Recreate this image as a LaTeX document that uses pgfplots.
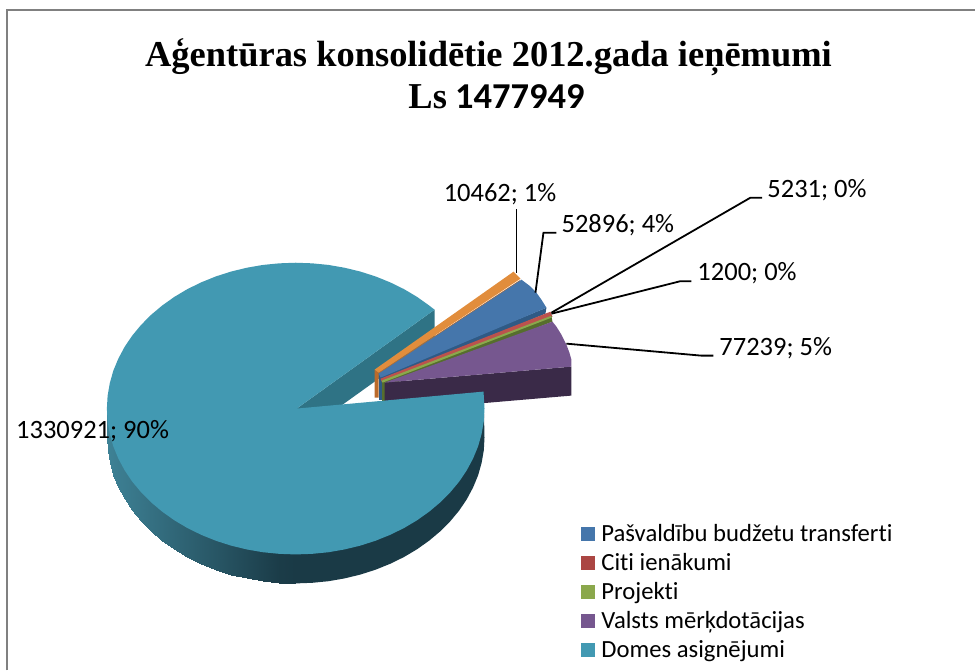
\documentclass[border=0pt]{standalone}
\usepackage{pgfplots}
\pgfplotsset{compat=1.18}
\usepackage{fontspec}
\setmainfont{Carlito}[Ligatures=NoCommon]
\newfontfamily\titlefont{Liberation Serif}

\definecolor{tealtop}{HTML}{4299B2}
\definecolor{tealwall}{HTML}{2F7385}
\definecolor{teallight}{HTML}{3E8296}
\definecolor{tealdark}{HTML}{1A3A46}
\definecolor{purpletop}{HTML}{76578F}
\definecolor{purplewall}{HTML}{3A2A48}
\definecolor{greentop}{HTML}{8BA84C}
\definecolor{greenwall}{HTML}{566E2D}
\definecolor{redtop}{HTML}{BC524D}
\definecolor{legendred}{HTML}{AB4643}
\definecolor{bluetop}{HTML}{4576AB}
\definecolor{bluewall}{HTML}{2F5A85}
\definecolor{orangetop}{HTML}{E18D3C}
\definecolor{orangewall}{HTML}{BA6A2A}
\definecolor{framegray}{HTML}{808080}

\newcommand{\leader}[1]{\addplot[black, line width=1.8pt] coordinates {#1};}
\newcommand{\lab}[3]{\node[anchor=west, inner sep=0pt, font=\fontsize{26.5}{30}\selectfont] at (axis cs:#1,#2) {#3};}

\begin{document}
\begin{tikzpicture}
\begin{axis}[
    scale only axis,
    width=976pt, height=671pt,
    xmin=0, xmax=976, ymin=0, ymax=671,
    y dir=reverse,
    hide axis,
    clip=false,
    every axis plot/.append style={no markers, forget plot},
    colormap={rimshade}{color=(teallight) color=(tealdark)},
    point meta min=0, point meta max=100,
    legend cell align=left,
    legend style={at={(axis cs:582,520)}, anchor=north west, draw=none, fill=none,
        inner sep=0pt, outer sep=0pt,
        font=\fontsize{24.7}{29}\selectfont, row sep=0pt,
        /tikz/every odd column/.append style={column sep=3pt},
        nodes={inner ysep=0pt, inner xsep=3pt, minimum height=29pt, anchor=west}},
    legend image code/.code={\fill[#1, draw=none] (0pt,-7pt) rectangle (14pt,7pt);},
]
% keeps the whole page in the picture
\addplot[draw=none] coordinates {(0,0) (976,671)};
% frame of the chart area
\addplot[framegray, line width=2pt] coordinates {(7,671) (7,10.5) (976,10.5)};

% cut face of the big slice
\addplot[fill=tealwall, draw=none] coordinates {(297,409) (435,310) (435,339) (297,438)};

% Orange slice (no legend entry)
\addplot[fill=orangewall, draw=none] coordinates {(375,370) (379,373) (379,398) (375,398)};
\addplot[fill=orangewall, draw=none] coordinates {(379,373) (521,280) (518,284) (379,379)};
\addplot[fill=orangetop, draw=none] coordinates {(375,370) (514,272) (521,279) (379,373)};

% Pašvaldību budžetu transferti
\addplot[fill=bluewall, draw=none] coordinates {(379,374) (382.5,374) (382.5,400) (379,400)};
\addplot[fill=bluewall, draw=none] coordinates {(380,376) (547,308) (546,314) (381,383)};
\addplot[fill=bluetop, draw=none] coordinates {(379,374) (522,280) (530,286) (537,293) (542,300) (547,308) (381,378)};

% Citi ienākumi
\addplot[fill=redtop, draw=none] coordinates {(381,379) (551,312) (553,317) (382,382)};

% Projekti
\addplot[fill=greenwall, draw=none] coordinates {(382,380) (385.5,380) (385.5,401) (382,401)};
\addplot[fill=greenwall, draw=none] coordinates {(382,382) (552,316.5) (553,322) (384,388)};
\addplot[fill=greentop, draw=none] coordinates {(382,381) (552,316) (552,318) (383,383)};

% Valsts mērķdotācijas
\addplot[fill=purplewall, draw=none] coordinates {(385,383) (572,367) (572,396) (385,412)};
\addplot[fill=purpletop, draw=none] coordinates {(385,383) (553,322) (557,327) (562,335) (567,345) (570,353) (572,360) (572,367)};

% rim of the big slice, right part flat and dark
\addplot[fill=tealdark, draw=none] coordinates {
    (484,392) (485,438) (484.3,450.7) (482.1,463.4) (478.6,475.8) (473.6,487.9) (467.3,499.7)
    (459.7,511) (450.8,521.7) (440.8,531.8) (429.6,541.2) (417.5,549.8) (404.4,557.6)
    (390.5,564.4) (375.9,570.3) (360.6,575.2) (344.9,579) (328.8,581.8) (312.5,583.4) (296,584)
    (296,500)};
% left part shaded
\addplot[patch, patch type=rectangle, shader=interp, point meta=explicit] coordinates {
    (296,584)[100] (279.5,583.4)[97] (279.5,520)[97] (296,520)[100]
    (279.5,583.4)[97] (263.2,581.8)[88] (263.2,520)[88] (279.5,520)[97]
    (263.2,581.8)[88] (247.1,579)[79] (247.1,520)[79] (263.2,520)[88]
    (247.1,579)[79] (231.4,575.2)[70] (231.4,520)[70] (247.1,520)[79]
    (231.4,575.2)[70] (216.1,570.3)[61] (216.1,520)[61] (231.4,520)[70]
    (216.1,570.3)[61] (201.5,564.4)[53] (201.5,510)[53] (216.1,510)[61]
    (201.5,564.4)[53] (187.6,557.6)[45] (187.6,510)[45] (201.5,510)[53]
    (187.6,557.6)[45] (174.5,549.8)[38] (174.5,500)[38] (187.6,500)[45]
    (174.5,549.8)[38] (162.4,541.2)[31] (162.4,490)[31] (174.5,490)[38]
    (162.4,541.2)[31] (151.2,531.8)[25] (151.2,480)[25] (162.4,480)[31]
    (151.2,531.8)[25] (141.2,521.7)[19] (141.2,470)[19] (151.2,470)[25]
    (141.2,521.7)[19] (132.3,511)[14] (132.3,460)[14] (141.2,460)[19]
    (132.3,511)[14] (124.7,499.7)[10] (124.7,450)[10] (132.3,450)[14]
    (124.7,499.7)[10] (118.4,487.9)[7] (118.4,440)[7] (124.7,440)[10]
    (118.4,487.9)[7] (113.4,475.8)[4] (113.4,430)[4] (118.4,430)[7]
    (113.4,475.8)[4] (109.9,463.4)[2] (109.9,420)[2] (113.4,420)[4]
    (109.9,463.4)[2] (107.7,450.7)[1] (107.7,410)[1] (109.9,410)[2]
    (107.7,450.7)[1] (107,438)[0] (107,409)[0] (107.7,409)[1]
};

% Domes asignējumi, top face
\addplot[fill=tealtop, draw=none] coordinates {
    (297,409) (484,392) (484.3,396.3) (485,409) (484.3,421.7) (482.1,434.4) (478.6,446.8)
    (473.6,458.9) (467.3,470.7) (459.7,482) (450.8,492.7) (440.8,502.8) (429.6,512.2)
    (417.5,520.8) (404.4,528.6) (390.5,535.4) (375.9,541.3) (360.6,546.2) (344.9,550)
    (328.8,552.8) (312.5,554.4) (296,555) (279.5,554.4) (263.2,552.8) (247.1,550)
    (231.4,546.2) (216.1,541.3) (201.5,535.4) (187.6,528.6) (174.5,520.8) (162.4,512.2)
    (151.2,502.8) (141.2,492.7) (132.3,482) (124.7,470.7) (118.4,458.9) (113.4,446.8)
    (109.9,434.4) (107.7,421.7) (107,409) (107.7,396.3) (109.9,383.6) (113.4,371.2)
    (118.4,359.1) (124.7,347.3) (132.3,336) (141.2,325.3) (151.2,315.2) (162.4,305.8)
    (174.5,297.2) (187.6,289.4) (201.5,282.6) (216.1,276.7) (231.4,271.8) (247.1,268)
    (263.2,265.2) (279.5,263.6) (296,263) (312.5,263.6) (328.8,265.2) (344.9,268)
    (360.6,271.8) (375.9,276.7) (390.5,282.6) (404.4,289.4) (417.5,297.2) (429.6,305.8)
    (435,310)};

% leader lines
\leader{(517,273) (517,209)}
\leader{(536,293) (544,233) (557,233)}
\leader{(552,313) (751,198) (763,198)}
\leader{(552,314) (681,281.5) (692,281.5)}
\leader{(567,344) (702,356) (714,356)}

% data labels
\lab{444}{194}{10462; 1\%}
\lab{562}{225}{52896; 4\%}
\lab{768}{190}{5231; 0\%}
\lab{698}{273}{1200; 0\%}
\lab{720}{349}{77239; 5\%}
\lab{16}{432}{1330921; 90\%}

% title
\node[anchor=base, inner sep=0pt, font=\fontsize{36.5}{44}\selectfont\bfseries] at (axis cs:489,67)
    {\titlefont Aģentūras konsolidētie 2012.gada ieņēmumi};
\node[anchor=base, inner sep=0pt, font=\fontsize{36.5}{44}\selectfont\bfseries] at (axis cs:497,109)
    {{\titlefont Ls} 1477949};

% legend
\addlegendimage{fill=bluetop}
\addlegendentry{Pašvaldību budžetu transferti}
\addlegendimage{fill=legendred}
\addlegendentry{Citi ienākumi}
\addlegendimage{fill=greentop}
\addlegendentry{Projekti}
\addlegendimage{fill=purpletop}
\addlegendentry{Valsts mērķdotācijas}
\addlegendimage{fill=tealtop}
\addlegendentry{Domes asignējumi}
\end{axis}
\end{tikzpicture}
\end{document}
